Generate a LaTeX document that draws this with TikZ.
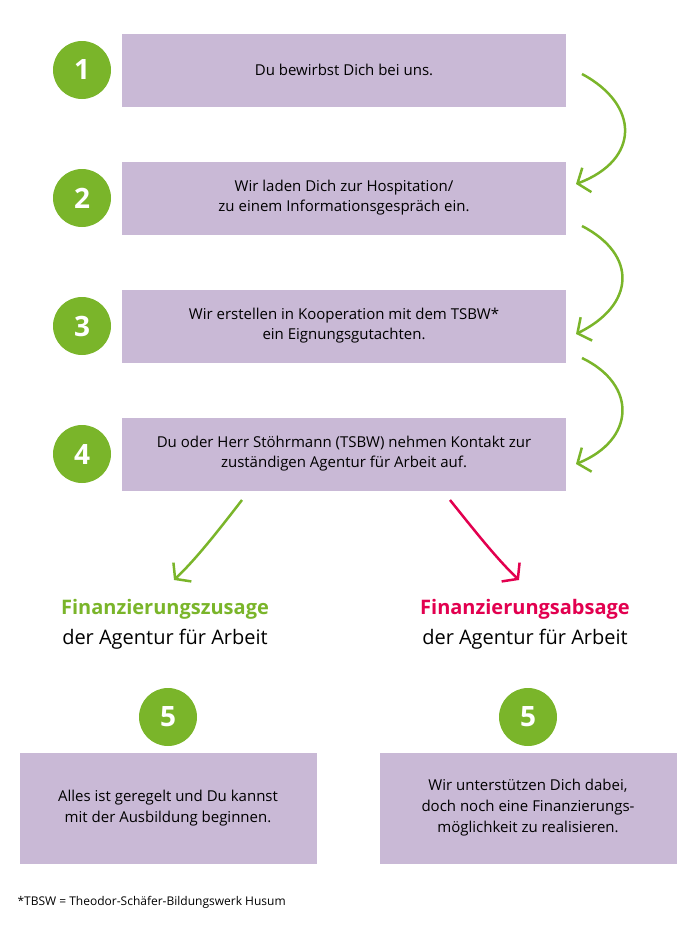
\documentclass[tikz,border=0pt]{standalone}
\usepackage{fontspec}
\setmainfont{Open Sans}
\usetikzlibrary{arrows.meta}
\definecolor{lila}{HTML}{C9B9D6}
\definecolor{grn}{HTML}{7AB52A}
\definecolor{rd}{HTML}{E2004F}
\tikzset{
 box/.style={fill=lila,minimum width=444pt,minimum height=73pt,align=center,font=\fontsize{15}{20}\selectfont,text=black},
 bbox/.style={fill=lila,minimum width=297pt,minimum height=111pt,align=center,font=\fontsize{15}{21}\selectfont},
 num/.style={circle,fill=grn,minimum size=58pt,text=white,font=\fontsize{28}{28}\selectfont\bfseries,inner sep=0},
 arr/.style={line width=2.5pt,-{Straight Barb[length=10pt,width=26pt,line width=2.5pt]}},
}
\begin{document}
\begin{tikzpicture}[x=1pt,y=-1pt]
\useasboundingbox (0,0) rectangle (700,927);
\node[box] (b1) at (344,70) {Du bewirbst Dich bei uns.};
\node[box] (b2) at (344,198) {Wir laden Dich zur Hospitation/\\zu einem Informationsgespräch ein.};
\node[box] (b3) at (344,326) {Wir erstellen in Kooperation mit dem TSBW*\\ein Eignungsgutachten.};
\node[box] (b4) at (344,454) {Du oder Herr Stöhrmann (TSBW) nehmen Kontakt zur\\zuständigen Agentur für Arbeit auf.};
\node[num] (n1) at (82,70) {1};
\node[num] (n2) at (82,198) {2};
\node[num] (n3) at (82,326) {3};
\node[num] (n4) at (82,454) {4};
\coordinate (a1) at (582,74); \coordinate (e1) at (576,184);
\coordinate (a2) at (582,226); \coordinate (e2) at (576,334);
\coordinate (a3) at (582,358); \coordinate (e3) at (576,464);
\draw[arr,grn] (a1) .. controls (640,105) and (640,160) .. (e1);
\draw[arr,grn] (a2) .. controls (638,255) and (635,305) .. (e2);
\draw[arr,grn] (a3) .. controls (638,385) and (635,440) .. (e3);
\coordinate (g0) at (242,500); \coordinate (g1) at (174,580);
\coordinate (r0) at (450,500); \coordinate (r1) at (519,580);
\node[align=center,font=\fontsize{20}{30}\selectfont] (zu) at (165,624) {\textcolor{grn}{\bfseries Finanzierungszusage}\\der Agentur für Arbeit};
\node[align=center,font=\fontsize{20}{30}\selectfont] (ab) at (525,624) {\textcolor{rd}{\bfseries Finanzierungsabsage}\\der Agentur für Arbeit};
\draw[arr,grn] (g0) .. controls (215,535) and (195,560) .. (g1);
\draw[arr,rd] (r0) .. controls (478,535) and (498,560) .. (r1);
\node[num] (n5a) at (168,717) {5};
\node[num] (n5b) at (528,717) {5};
\node[bbox] (c1) at (168,808) {Alles ist geregelt und Du kannst\\mit der Ausbildung beginnen.};
\node[bbox] (c2) at (528,808) {Wir unterstützen Dich dabei,\\doch noch eine Finanzierungs-\\möglichkeit zu realisieren.};
\node[anchor=west,font=\fontsize{12}{14}\selectfont] (fn) at (14,902) {*TBSW = Theodor-Schäfer-Bildungswerk Husum};
\end{tikzpicture}
\end{document}
